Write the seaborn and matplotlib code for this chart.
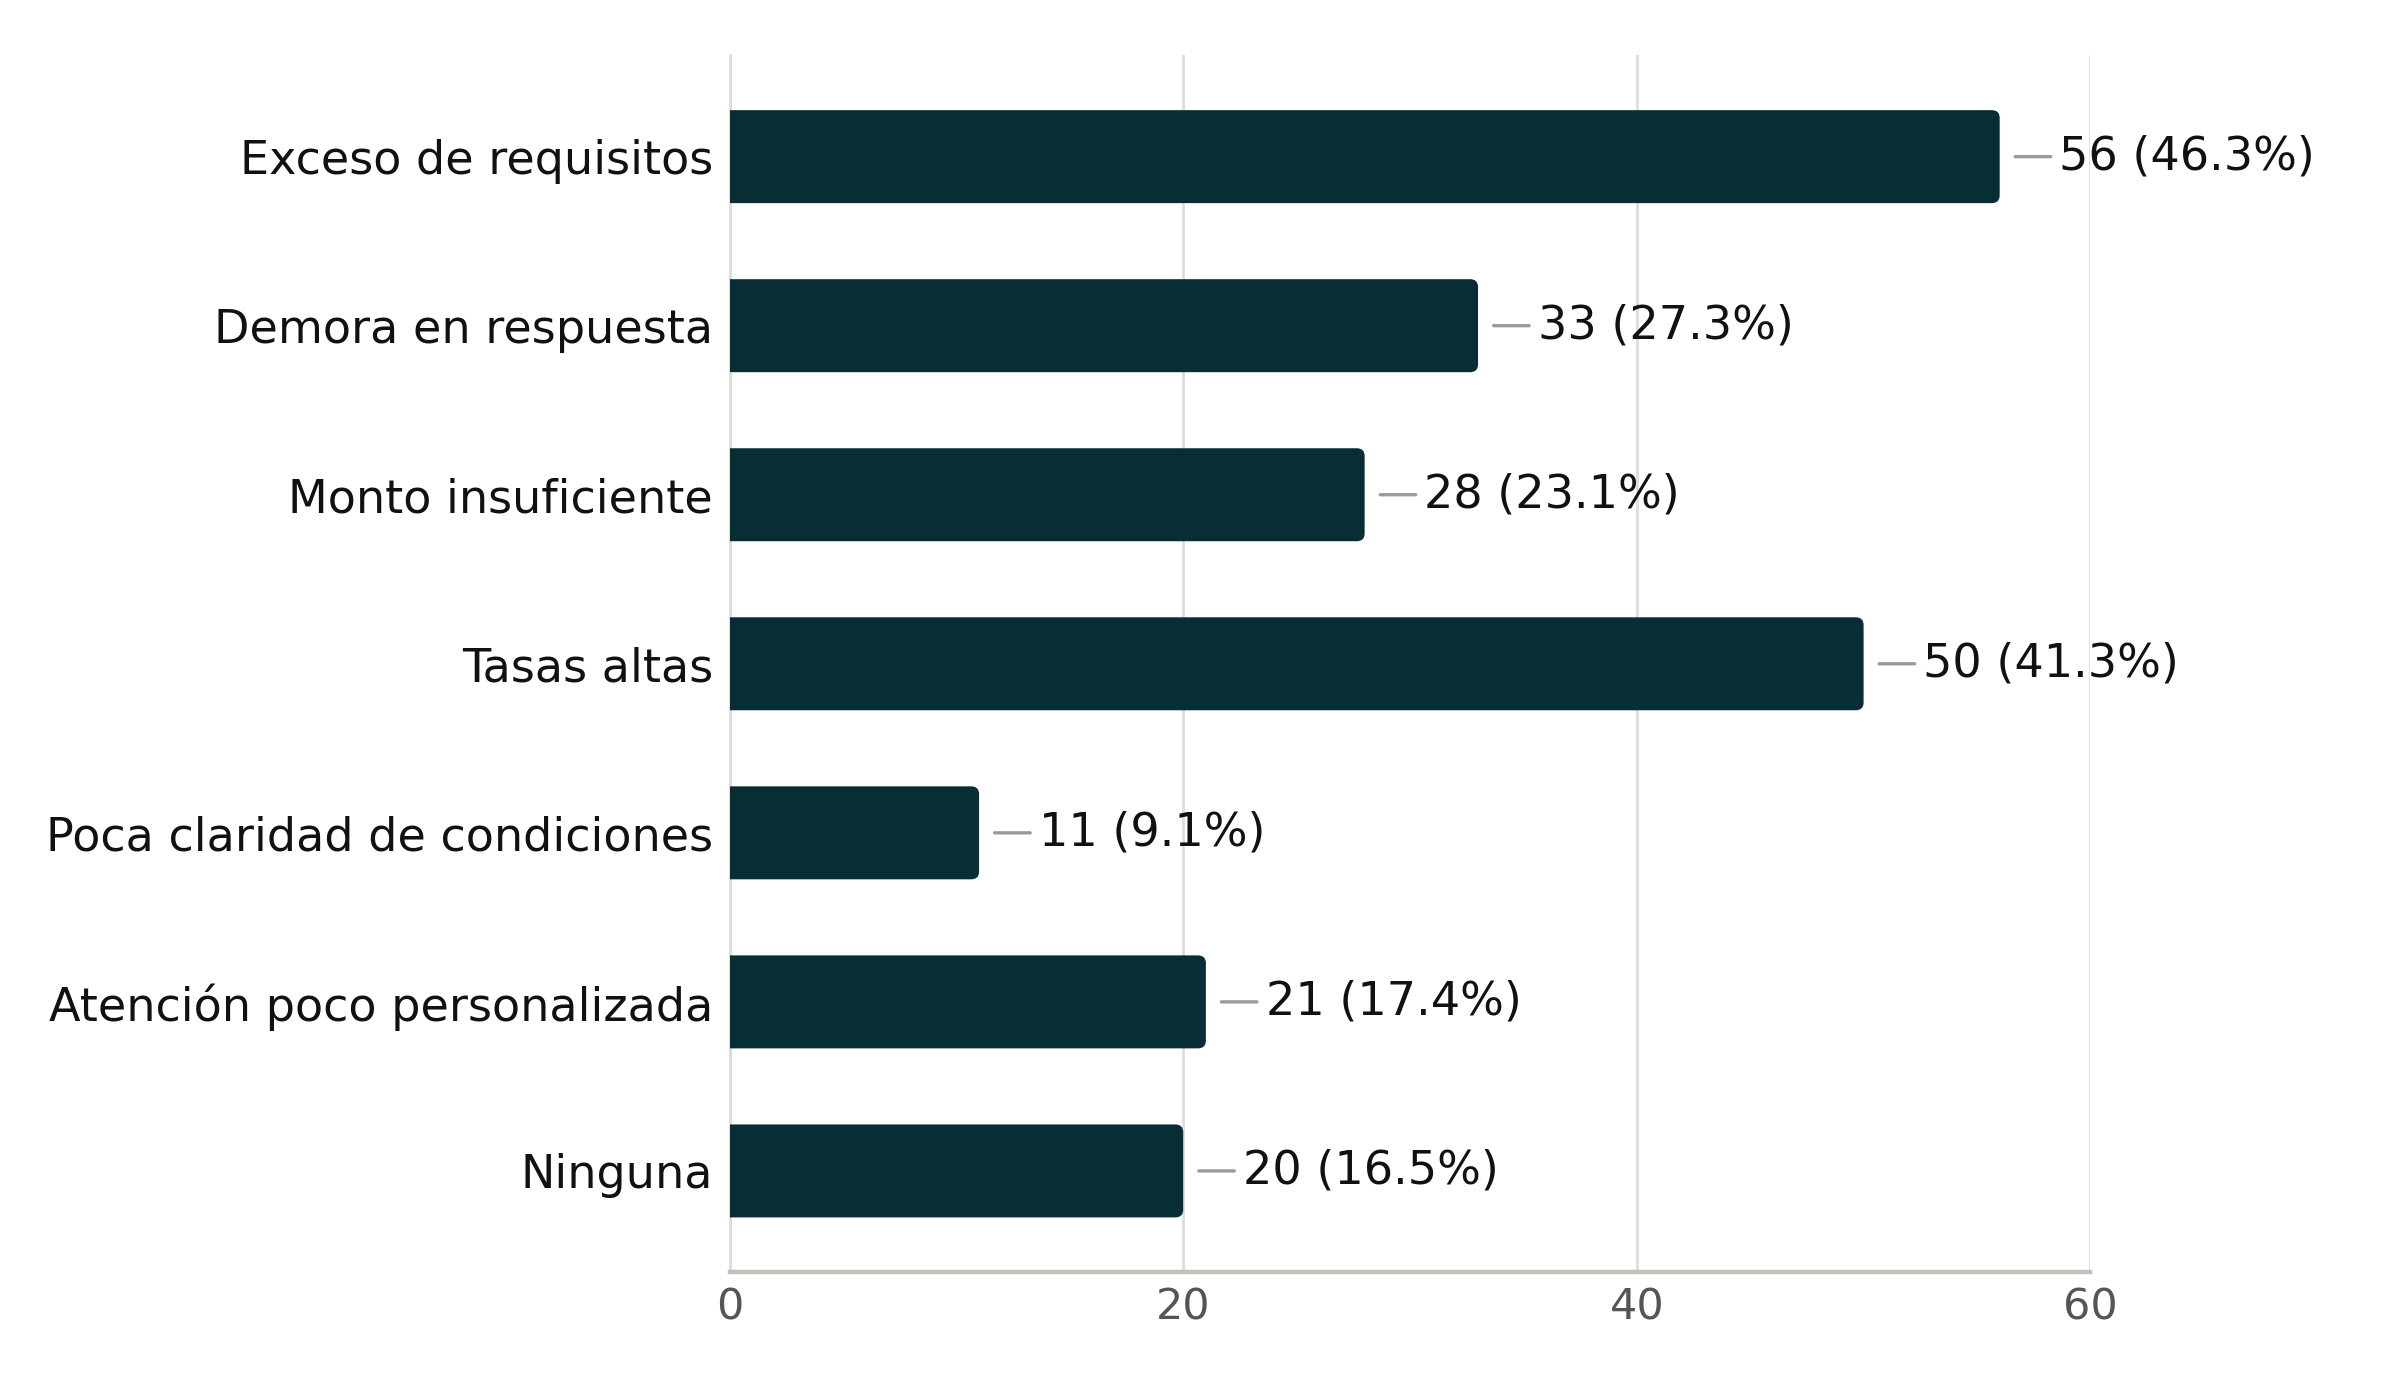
import matplotlib
matplotlib.use("Agg")
import matplotlib.pyplot as plt
from matplotlib.patches import FancyBboxPatch
from matplotlib.transforms import offset_copy
import seaborn as sns

# survey data: obstacles reported (multiple answers, n = 121)
categories = ['Exceso de requisitos', 'Demora en respuesta', 'Monto insuficiente',
              'Tasas altas', 'Poca claridad de condiciones',
              'Atención poco personalizada', 'Ninguna']
counts = [56, 33, 28, 50, 11, 21, 20]
n_respondents = 121
x_ticks = [0, 20, 40, 60]

bar_color = '#082e35'
fs = 16.6

sns.set_theme(style='white')
plt.rcParams['font.family'] = ['DejaVu Sans']

fig = plt.figure(figsize=(12, 6.9), dpi=200)
ax = fig.add_axes([0.304, 0.078, 0.567, 0.882])

sns.barplot(x=counts, y=categories, orient='h', color=bar_color,
            width=0.55, saturation=1, ax=ax)

# swap the plain bars for rounded ones (left side hidden behind x=0)
for p in list(ax.patches):
    x0, y0 = p.get_x(), p.get_y()
    w, h = p.get_width(), p.get_height()
    p.remove()
    rb = FancyBboxPatch((x0 - 1, y0), w + 1, h,
                        boxstyle='round,pad=0,rounding_size=0.35',
                        mutation_aspect=0.13, facecolor=bar_color,
                        edgecolor='none', zorder=3, clip_on=True)
    ax.add_patch(rb)

# value labels with a small gray leader line
start_tr = offset_copy(ax.transData, fig=fig, x=5.6, y=0, units='points')
end_tr = offset_copy(ax.transData, fig=fig, x=18.4, y=0, units='points')
for i, v in enumerate(counts):
    pct = v / n_respondents * 100
    ax.annotate('', xy=(v, i), xycoords=end_tr,
                xytext=(v, i), textcoords=start_tr,
                arrowprops=dict(arrowstyle='-', color='#9a9a9a', lw=1.2,
                                shrinkA=0, shrinkB=0),
                annotation_clip=False)
    ax.annotate(f'{v} ({pct:.1f}%)', xy=(v, i), xytext=(21.5, 0),
                textcoords='offset points', ha='left', va='center',
                fontsize=fs, color='#111111')

ax.set_xlim(0, 60)
ax.set_ylim(6.6, -0.6)
ax.set_xticks(x_ticks)
ax.set_xlabel('')
ax.set_ylabel('')

ax.grid(axis='x', color='#dddddd', lw=1.0, zorder=0)
ax.set_axisbelow(True)
for s in ['top', 'right']:
    ax.spines[s].set_visible(False)
ax.spines['left'].set_color('#dddddd')
ax.spines['left'].set_linewidth(1.0)
ax.spines['bottom'].set_color('#c0c0b8')
ax.spines['bottom'].set_linewidth(1.6)

ax.tick_params(axis='x', length=0, labelsize=15.5, labelcolor='#555555', pad=5)
ax.tick_params(axis='y', length=0, labelsize=fs, labelcolor='#111111', pad=6)

fig.savefig('out.png', dpi=200, facecolor='white')
